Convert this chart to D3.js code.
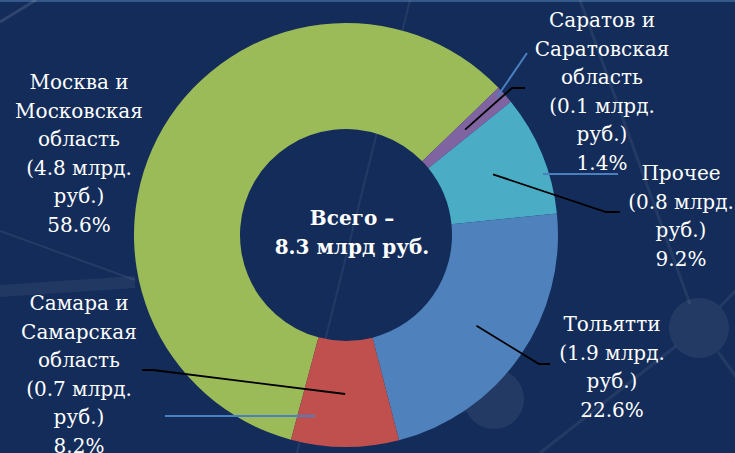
<!DOCTYPE html>
<html>
<head>
<meta charset="utf-8">
<script src="https://cdn.jsdelivr.net/npm/d3@7"></script>
<style>
  html, body { margin: 0; padding: 0; background: #132c59; }
  svg { display: block; }
  .lbl { font-family: "DejaVu Serif", serif; }
</style>
</head>
<body>
<div id="chart"></div>
<script>
// data
var names = [
  ["Москва и", "Московская", "область"],
  ["Саратов и", "Саратовская", "область"],
  ["Прочее"],
  ["Тольятти"],
  ["Самара и", "Самарская", "область"]
]
var amounts = [4.8, 0.1, 0.8, 1.9, 0.7]   // млрд руб.
var shares = [58.6, 1.4, 9.2, 22.6, 8.2]  // %
var totalText = ["Всего –", "8.3 млрд руб."]

var colors = ["#9bbb59", "#8064a2", "#4bacc6", "#4f81bd", "#c0504d"]

var width = 735, height = 453
var cx = 346, cy = 235, R = 212, r = 106
var lineH = 28.5

// label layout (text centre x, first line centre y, elbow of the leader line)
var labelPos = [
  {x: 79, y: 82, elbow: null},
  {x: 602, y: 20, elbow: [[512, 88], [525, 88]]},
  {x: 681, y: 173, elbow: [[606, 212], [620, 212]]},
  {x: 612, y: 324, elbow: [[539, 364], [550, 364]]},
  {x: 79, y: 303, elbow: [[153, 370], [142, 370]]}
]

var svg = d3.select("#chart").append("svg")
    .attr("width", width)
    .attr("height", height)

svg.append("rect").attr("width", width).attr("height", height).attr("fill", "#132c59")
svg.append("rect").attr("width", width).attr("height", 2).attr("fill", "#35598a")

// faint network decoration in the background
var deco = svg.append("g").attr("stroke", "#ffffff").attr("fill", "none")
deco.append("line").attr("x1", 0).attr("y1", 22).attr("x2", 36).attr("y2", 0).attr("stroke-width", 3).attr("stroke-opacity", 0.12)
deco.append("line").attr("x1", 410).attr("y1", 0).attr("x2", 297).attr("y2", 453).attr("stroke-width", 2).attr("stroke-opacity", 0.07)
deco.append("line").attr("x1", 580).attr("y1", 0).attr("x2", 690).attr("y2", 304).attr("stroke-width", 3).attr("stroke-opacity", 0.07)
deco.append("line").attr("x1", 720).attr("y1", 307).attr("x2", 740).attr("y2", 286).attr("stroke-width", 3).attr("stroke-opacity", 0.07)
deco.append("line").attr("x1", 718).attr("y1", 352).attr("x2", 740).attr("y2", 382).attr("stroke-width", 3).attr("stroke-opacity", 0.07)
deco.append("line").attr("x1", 676).attr("y1", 346).attr("x2", 540).attr("y2", 453).attr("stroke-width", 3).attr("stroke-opacity", 0.07)
deco.append("line").attr("x1", 0).attr("y1", 231).attr("x2", 135).attr("y2", 280).attr("stroke-width", 2).attr("stroke-opacity", 0.08)
deco.append("line").attr("x1", 0).attr("y1", 291).attr("x2", 135).attr("y2", 282).attr("stroke-width", 12).attr("stroke-opacity", 0.06)
deco.append("line").attr("x1", 466).attr("y1", 410).attr("x2", 440).attr("y2", 420).attr("stroke-width", 3).attr("stroke-opacity", 0.06)
deco.append("circle").attr("cx", 699).attr("cy", 328).attr("r", 30).attr("stroke", "none").attr("fill", "#ffffff").attr("fill-opacity", 0.07)
deco.append("circle").attr("cx", 494).attr("cy", 399).attr("r", 30).attr("stroke", "none").attr("fill", "#ffffff").attr("fill-opacity", 0.07)

// donut
var total = d3.sum(shares)
var start = 46 * Math.PI / 180 - shares[0] / total * 2 * Math.PI
var pie = d3.pie().sort(null).value(d => d)
    .startAngle(start).endAngle(start + 2 * Math.PI)
var arcs = pie(shares)
var arc = d3.arc().innerRadius(r).outerRadius(R)

var g = svg.append("g").attr("transform", "translate(" + cx + "," + cy + ")")
g.selectAll("path.slice")
  .data(arcs)
  .join("path")
    .attr("class", "slice")
    .attr("d", arc)
    .attr("fill", (d, i) => colors[i])

// stray blue connector strokes
var blue = svg.append("g").attr("stroke", "#4a7fc0").attr("stroke-width", 2)
blue.append("line").attr("x1", 497).attr("y1", 97).attr("x2", 527).attr("y2", 53)
blue.append("line").attr("x1", 543).attr("y1", 174).attr("x2", 618).attr("y2", 174)
blue.append("line").attr("x1", 165).attr("y1", 416).attr("x2", 315).attr("y2", 416)

// leader lines from arc centroids
var leaders = svg.append("g").attr("fill", "none").attr("stroke", "#000").attr("stroke-width", 1.8)
arcs.forEach((a, i) => {
  var p = labelPos[i]
  if (!p.elbow) return
  var c = arc.centroid(a)
  var pts = [[cx + c[0], cy + c[1]]].concat(p.elbow)
  leaders.append("path").attr("d", d3.line()(pts))
})

// labels
var labels = svg.append("g")
    .attr("class", "lbl")
    .attr("font-size", 20)
    .attr("fill", "#ffffff")
    .attr("text-anchor", "middle")
names.forEach((n, i) => {
  var lines = n.concat(["(" + amounts[i].toFixed(1) + " млрд.", "руб.)", shares[i].toFixed(1) + "%"])
  var p = labelPos[i]
  var t = labels.append("text")
  lines.forEach((s, j) => {
    t.append("tspan").attr("x", p.x).attr("y", p.y + j * lineH + 7).text(s)
  })
})

// centre text
var ct = svg.append("text")
    .attr("class", "lbl")
    .attr("font-size", 20)
    .attr("font-weight", "bold")
    .attr("fill", "#ffffff")
    .attr("text-anchor", "middle")
totalText.forEach((s, j) => {
  ct.append("tspan").attr("x", 352).attr("y", 218 + j * 29 + 7).text(s)
})
</script>
</body>
</html>
